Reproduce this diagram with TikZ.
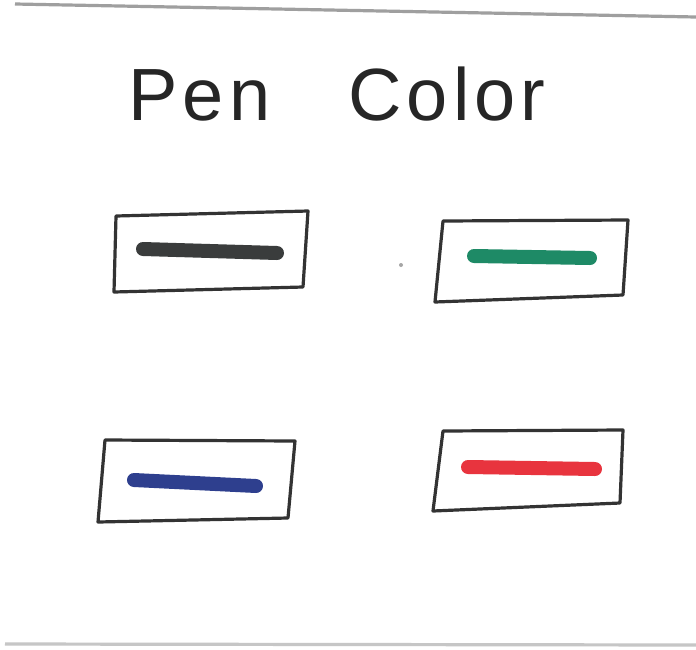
\documentclass[tikz,border=0pt]{standalone}
\usepackage{fontspec}
\setmainfont{Liberation Sans}
\definecolor{penblack}{HTML}{3A3C3C}
\definecolor{pengreen}{HTML}{1E8A66}
\definecolor{penblue}{HTML}{2E3F8E}
\definecolor{penred}{HTML}{E8343E}
\begin{document}
\begin{tikzpicture}[x=0.5pt,y=-0.5pt,
  boxline/.style={draw=black!80, line width=1.6pt, line join=round},
  penbar/.style={line width=7pt, line cap=round},
  rule/.style={line width=1.6pt}]
\useasboundingbox (0,0) rectangle (696,649);
\fill[white] (0,0) rectangle (696,649);
% page edges
\draw[rule, gray!75] (15,4) -- (696,17);
\draw[rule, gray!45] (5,644) -- (696,645);
% title
\node[anchor=base west, inner sep=0, text=black!85,
      font=\fontsize{37}{40}\selectfont\addfontfeature{LetterSpace=7}] (title) at (128,120) {Pen\hspace{1.05em}Color};
% box 1 black
\draw[boxline] (116,216) -- (308,211) -- (303,287) -- (114,292) -- cycle;
\draw[penbar, penblack] (143,249) -- (277,253);
% box 2 green
\draw[boxline] (443,221) -- (628,220) -- (623,295) -- (435,302) -- cycle;
\draw[penbar, pengreen] (474,256) -- (590,258);
% box 3 blue
\draw[boxline] (105,440) -- (295,441) -- (288,518) -- (98,522) -- cycle;
\draw[penbar, penblue] (134,480) -- (256,486);
% box 4 red
\draw[boxline] (443,431) -- (623,430) -- (620,503) -- (433,511) -- cycle;
\draw[penbar, penred] (468,467) -- (595,469);
% speck
\fill[gray!70] (401,265) circle (2);
\end{tikzpicture}
\end{document}
